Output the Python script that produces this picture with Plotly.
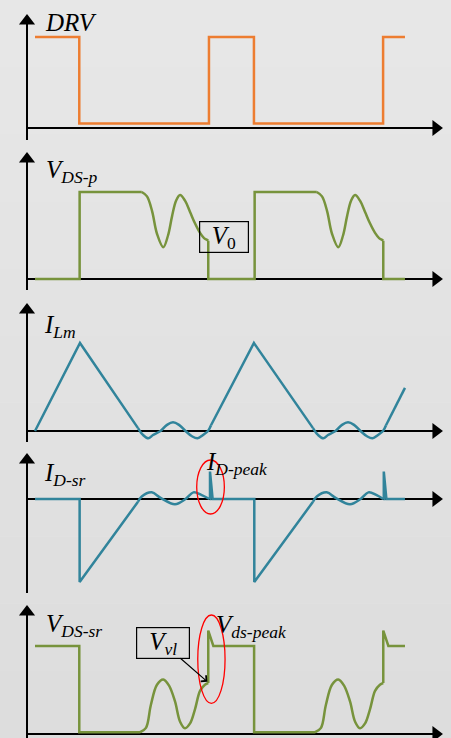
import plotly.graph_objects as go

W, H = 451, 738
BG_TOP, BG_BOTTOM = 231, 221      # grey levels of the background shading
ORANGE = "#ED7D31"
GREEN = "#77933C"
TEAL = "#31849B"
RED = "#FF0000"
FONT = "Liberation Serif"

# Time axis: one switching period = 10 units
T_MIN, T_MAX = -2.0, 23.77
T_AXIS = -0.457      # position of the vertical axes
T_TIP = 23.31        # tip of the time-axis arrows
PX_PER_T = W / (T_MAX - T_MIN)

# ---- DRV: gate drive (drawn with hv steps) ----
DRV_T = [0.0, 2.53, 9.94, 12.51, 19.89, 21.14]
DRV_V = [1.0, 0.05, 1.0, 0.05, 1.0, 1.0]

# ---- V_DS-p: primary switch drain-source voltage ----
VDSP_LIN_T = [0.0, 2.55, 2.55, 6.10, None,
              9.90, 9.90, 12.55, 12.55, 16.10, None,
              19.90, 19.90, 21.14]
VDSP_LIN_V = [0.0, 0.0, 1.0, 1.0, None,
              0.44, 0.0, 0.0, 1.0, 1.0, None,
              0.44, 0.0, 0.0]
VDSP_RING_T = [6.10, 6.40, 6.69, 6.97, 7.33, 7.60, 7.83, 8.06, 8.29, 8.57, 8.86, 9.14, 9.43, 9.66, 9.83, 9.90, None,
               16.10, 16.40, 16.69, 16.97, 17.33, 17.60, 17.83, 18.06, 18.29, 18.57, 18.86, 19.14, 19.43, 19.66, 19.83, 19.90]
VDSP_RING_V = [1.0, 0.95, 0.78, 0.52, 0.365, 0.50, 0.72, 0.90, 0.965, 0.90, 0.77, 0.64, 0.53, 0.47, 0.45, 0.44, None,
               1.0, 0.95, 0.78, 0.52, 0.365, 0.50, 0.72, 0.90, 0.965, 0.90, 0.77, 0.64, 0.53, 0.47, 0.45, 0.44]
V0_LEVEL = (9.43, 12.19, 0.302, 0.659)   # callout box span for V0 (t0, t1, v0, v1)

# ---- I_Lm: magnetizing current ----
ILM_LIN_T = [0.0, 2.57, 5.886, None, 10.057, 12.51, 15.886, None, 20.057, 21.14]
ILM_LIN_V = [0.0, 1.0, 0.033, None, 0.065, 1.0, 0.033, None, 0.065, 0.49]
ILM_RING_T = [5.886, 6.171, 6.474, 6.743, 7.171, 7.543, 7.886, 8.229, 8.60, 8.971, 9.286, 9.60, 9.886, 10.057, None,
              15.886, 16.171, 16.474, 16.743, 17.171, 17.543, 17.886, 18.229, 18.60, 18.971, 19.286, 19.60, 19.886, 20.057]
ILM_RING_V = [0.033, -0.045, -0.083, -0.045, 0.0, 0.07, 0.099, 0.07, 0.0, -0.06, -0.083, -0.045, 0.0, 0.065, None,
              0.033, -0.045, -0.083, -0.045, 0.0, 0.07, 0.099, 0.07, 0.0, -0.06, -0.083, -0.045, 0.0, 0.065]

# ---- I_D-sr: synchronous rectifier current ----
IDSR_LIN_T = [0.0, 2.55, 2.55, 5.886, None,
              9.97, 10.0, 10.0, 10.15, 12.53, 12.53, 15.886, None,
              19.90, 19.93, 19.93, 20.08, 21.14]
IDSR_LIN_V = [0.0, 0.0, -1.0, -0.033, None,
              0.0, 0.0, 0.33, 0.0, 0.0, -1.0, -0.033, None,
              0.0, 0.0, 0.33, 0.0, 0.0]
IDSR_RING_T = [5.886, 6.10, 6.67, 7.20, 8.00, 8.60, 9.05, 9.50, 9.97, None,
               15.886, 16.10, 16.67, 17.20, 18.00, 18.60, 19.05, 19.50, 19.90]
IDSR_RING_V = [-0.033, 0.03, 0.08, 0.01, -0.064, 0.0, 0.08, 0.05, 0.0, None,
               -0.033, 0.03, 0.08, 0.01, -0.064, 0.0, 0.08, 0.05, 0.0]

# ---- V_DS-sr: synchronous rectifier drain-source voltage ----
VDSSR_LIN_T = [0.0, 2.53, 2.53, 6.0, None,
               9.90, 9.90, 10.19, 12.52, 12.52, 16.0, None,
               19.90, 19.90, 20.19, 21.14]
VDSSR_LIN_V = [1.0, 1.0, 0.02, 0.02, None,
               0.58, 1.175, 1.0, 1.0, 0.02, 0.02, None,
               0.58, 1.175, 1.0, 1.0]
VDSSR_RING_T = [6.0, 6.34, 6.62, 6.97, 7.33, 7.66, 8.0, 8.29, 8.57, 8.86, 9.14, 9.43, 9.71, 9.90, None,
                16.0, 16.34, 16.62, 16.97, 17.33, 17.66, 18.0, 18.29, 18.57, 18.86, 19.14, 19.43, 19.71, 19.90]
VDSSR_RING_V = [0.02, 0.07, 0.33, 0.56, 0.62, 0.55, 0.37, 0.14, 0.065, 0.12, 0.28, 0.49, 0.56, 0.58, None,
                0.02, 0.07, 0.33, 0.56, 0.62, 0.55, 0.37, 0.14, 0.065, 0.12, 0.28, 0.49, 0.56, 0.58]
VVL_POINT = (9.85, 0.594)                # where the V_vl callout points

# Panel layout in pixels: band top, band bottom, zero line, px per unit,
# bottom of vertical axis, tip of vertical axis
PANELS = [
    (0, 146, 128, 91, 140, 14),
    (146, 296, 279, 87, 290, 152),
    (296, 446, 431, 88, 442, 303),
    (446, 597, 499, 83, 593, 453),
    (597, 738, 734, 88, 738, 605),
]
HEAD = 14   # arrow-head marker size

fig = go.Figure()
shapes, annotations = [], []
layout_axes = {}

# soft vertical background shading
N_BANDS = BG_TOP - BG_BOTTOM + 1
for i in range(N_BANDS):
    g = BG_TOP - i
    shapes.append(dict(type="rect", xref="paper", yref="paper", x0=0, x1=1,
                       y0=1 - (i + 1) / N_BANDS, y1=1 - i / N_BANDS, layer="below",
                       line=dict(width=0), fillcolor=f"rgb({g},{g},{g})"))


def yname(k):
    return "y" if k == 1 else f"y{k}"


for k, (top, bot, zero, unit, ax_bot, ax_tip) in enumerate(PANELS, start=1):
    key = "yaxis" if k == 1 else f"yaxis{k}"
    layout_axes[key] = dict(
        domain=[1 - bot / H, 1 - top / H],
        range=[-(bot - zero) / unit, (zero - top) / unit],
        visible=False, fixedrange=True, anchor="x",
    )
    yr = yname(k)
    v_bot = (zero - ax_bot) / unit
    v_tip = (zero - ax_tip) / unit
    # axis lines under the waveforms
    shapes.append(dict(type="line", xref="x", yref=yr, x0=T_AXIS, x1=T_AXIS,
                       y0=v_bot, y1=v_tip - 6 / unit, layer="below",
                       line=dict(color="black", width=2)))
    shapes.append(dict(type="line", xref="x", yref=yr, x0=T_AXIS, x1=T_TIP - 6 / PX_PER_T,
                       y0=0, y1=0, layer="below",
                       line=dict(color="black", width=2)))
    # arrow heads (triangle tip sits HEAD/2 px from the marker centre)
    fig.add_trace(go.Scatter(
        x=[T_AXIS, T_TIP - (HEAD / 2) / PX_PER_T],
        y=[v_tip - (HEAD / 2) / unit, 0],
        mode="markers", xaxis="x", yaxis=yr, hoverinfo="skip", showlegend=False,
        marker=dict(symbol=["triangle-up", "triangle-right"], size=HEAD,
                    color="black", line=dict(width=0)),
    ))


def add(t, v, color, k, shape="linear"):
    fig.add_trace(go.Scatter(x=t, y=v, mode="lines", xaxis="x", yaxis=yname(k),
                             line=dict(color=color, width=2.5, shape=shape),
                             connectgaps=False, hoverinfo="skip", showlegend=False))


add(DRV_T, DRV_V, ORANGE, 1, "hv")
add(VDSP_LIN_T, VDSP_LIN_V, GREEN, 2)
add(VDSP_RING_T, VDSP_RING_V, GREEN, 2, "spline")
add(ILM_LIN_T, ILM_LIN_V, TEAL, 3)
add(ILM_RING_T, ILM_RING_V, TEAL, 3, "spline")
add(IDSR_LIN_T, IDSR_LIN_V, TEAL, 4)
add(IDSR_RING_T, IDSR_RING_V, TEAL, 4, "spline")
add(VDSSR_LIN_T, VDSSR_LIN_V, GREEN, 5)
add(VDSSR_RING_T, VDSSR_RING_V, GREEN, 5, "spline")

# Highlight ellipses around the peaks
shapes.append(dict(type="circle", xref="x", yref="y4", x0=9.24, x1=10.82, y0=-0.181, y1=0.47,
                   line=dict(color=RED, width=1.3)))
shapes.append(dict(type="circle", xref="x", yref="y5", x0=9.30, x1=10.86, y0=0.349, y1=1.352,
                   line=dict(color=RED, width=1.3)))

TXT = dict(family=FONT, size=25, color="black")

# V0 callout box
t0, t1, v0, v1 = V0_LEVEL
unit2 = PANELS[1][3]
annotations.append(dict(
    text="<i>V</i><sub>0</sub>", x=(t0 + t1) / 2, y=(v0 + v1) / 2, xref="x", yref="y2",
    showarrow=False, width=(t1 - t0) * PX_PER_T - 1, height=(v1 - v0) * unit2 - 1,
    borderpad=0, bordercolor="black", borderwidth=1.2, align="center", valign="middle",
    font=TXT,
))

# V_vl callout box with pointer
annotations.append(dict(
    text="<i>V<sub>vl</sub></i>", x=VVL_POINT[0], y=VVL_POINT[1], xref="x", yref="y5",
    ax=7.297, ay=1.036, axref="x", ayref="y5",
    showarrow=True, arrowhead=4, arrowsize=1.3, arrowwidth=1.2, arrowcolor="black",
    standoff=0, width=52, height=30, borderpad=0, bordercolor="black", borderwidth=1.2,
    align="center", valign="middle", font=TXT,
))


def label(text, xp, yp, xanchor="left"):
    annotations.append(dict(text=text, x=xp / W, y=1 - yp / H, xref="paper", yref="paper",
                            xanchor=xanchor, yanchor="middle", showarrow=False, font=TXT))


label("<i>DRV</i>", 43, 22)
label("<i>V<sub>DS-p</sub></i>", 44, 172)
label("<i>I<sub>Lm</sub></i>", 42, 326)
label("<i>I<sub>D-sr</sub></i>", 42, 474)
label("<i>I<sub>D-peak</sub></i>", 204, 463)
label("<i>V<sub>DS-sr</sub></i>", 44, 625)
label("<i>V<sub>ds-peak</sub></i>", 214, 626)

fig.update_layout(
    width=W, height=H, autosize=False,
    margin=dict(l=0, r=0, t=0, b=0, pad=0),
    paper_bgcolor=f"rgb({BG_TOP},{BG_TOP},{BG_TOP})", plot_bgcolor="rgba(0,0,0,0)",
    xaxis=dict(domain=[0, 1], range=[T_MIN, T_MAX], visible=False, fixedrange=True),
    shapes=shapes, annotations=annotations, showlegend=False,
    **layout_axes,
)

fig.write_html("out.html", config={"displayModeBar": False})
